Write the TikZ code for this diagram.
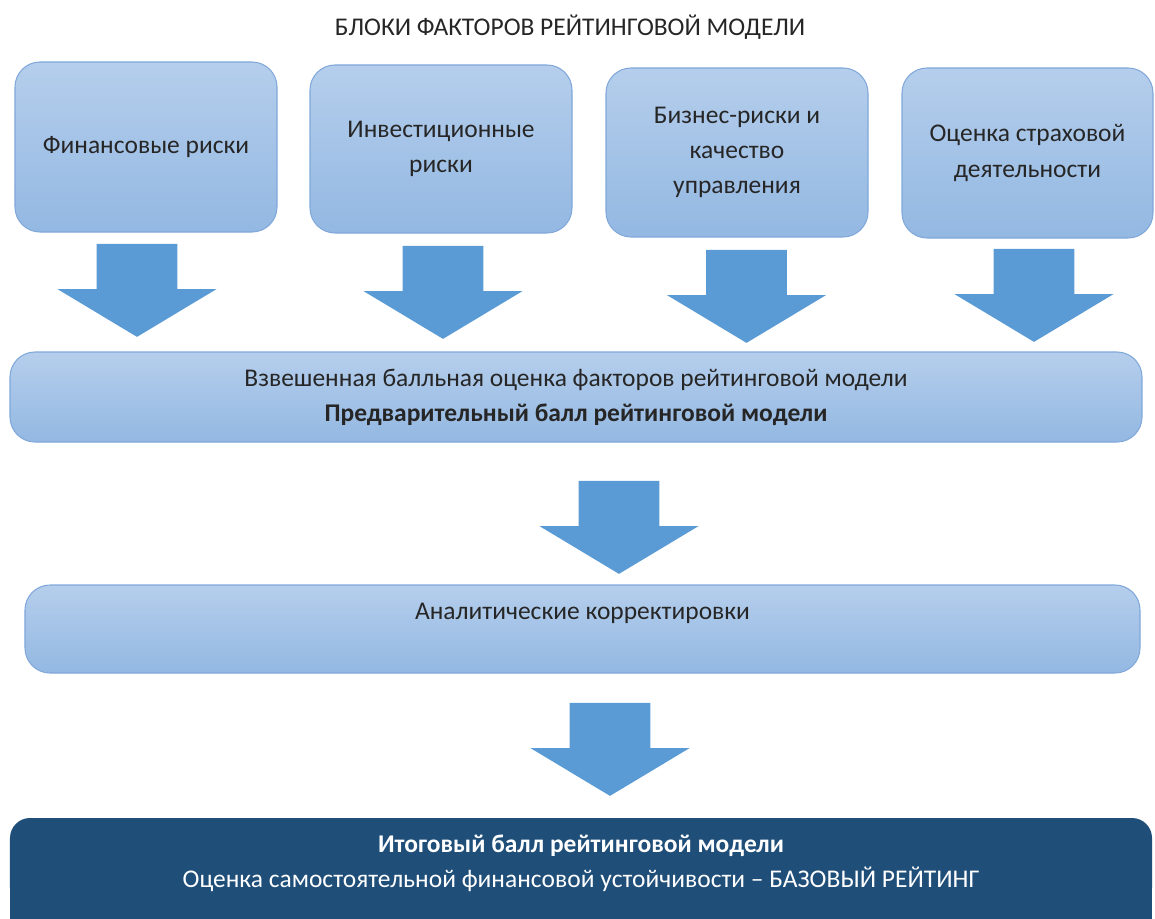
\documentclass[tikz,border=0pt]{standalone}
\usepackage{fontspec}
\setmainfont{Carlito}
\usepackage{xcolor}
\definecolor{boxtop}{RGB}{181,206,236}
\definecolor{boxbot}{RGB}{147,184,226}
\definecolor{boxline}{RGB}{128,168,218}
\definecolor{arrowblue}{RGB}{91,155,213}
\definecolor{darkblue}{RGB}{31,78,121}
\usepackage{tikz}
\usetikzlibrary{calc,shapes,shapes.arrows,backgrounds}

\begin{document}
\begin{tikzpicture}[font=\fontsize{14.5}{20}\selectfont,text=black!85,
  factor/.style={rectangle,rounded corners=0.5cm,draw=boxline,line width=0.6pt,
    top color=boxtop,bottom color=boxbot,align=center,inner sep=0pt},
  downarrow/.style={single arrow,fill=arrowblue,rotate=-90,anchor=tail,inner xsep=0pt,inner ysep=0.8cm,
    minimum height=1.86cm,minimum width=3.16cm,single arrow head extend=0.78cm,
    single arrow tip angle=118}]
  \useasboundingbox (0,0) rectangle (23.1,-18.36);

  \node (title) at (11.4,-0.54) {БЛОКИ ФАКТОРОВ РЕЙТИНГОВОЙ МОДЕЛИ};

  %% factor blocks
  \node[factor,minimum width=5.24cm,minimum height=3.4cm] (fin) at (2.92,-2.94) {Финансовые риски};
  \node[factor,minimum width=5.24cm,minimum height=3.36cm] (inv) at (8.82,-2.98) {Инвестиционные\\риски};
  \node[factor,minimum width=5.24cm,minimum height=3.38cm] (biz) at (14.74,-3.05) {Бизнес-риски и\\качество\\управления};
  \node[factor,minimum width=5.02cm,minimum height=3.4cm] (ins) at (20.55,-3.06) {Оценка страховой\\деятельности};

  \node[factor,minimum width=22.64cm,minimum height=1.8cm] (score) at (11.52,-7.94)
  {Взвешенная балльная оценка факторов рейтинговой модели\\\textbf{Предварительный балл рейтинговой модели}};

  \node[factor,minimum width=22.3cm,minimum height=1.76cm,text height=0.4cm,text depth=0.8cm] (adj) at (11.65,-12.58)
  {Аналитические корректировки};

  %% final block runs past the bottom edge
  \fill[darkblue] (0.2,-17.0) rectangle (23.04,-18.8);
  \node[rectangle,rounded corners=0.4cm,fill=darkblue,text=white,align=center,
  minimum width=22.84cm,minimum height=1.8cm] (base) at (11.62,-17.26)
  {\textbf{Итоговый балл рейтинговой модели}\\Оценка самостоятельной финансовой устойчивости – БАЗОВЫЙ РЕЙТИНГ};

  %% arrows
  \node[downarrow] (a1) at ([xshift=-0.18cm,yshift=-0.22cm]fin.south) {};
  \node[downarrow] (a2) at ([xshift=0.04cm,yshift=-0.24cm]inv.south) {};
  \node[downarrow] (a3) at ([xshift=0.19cm,yshift=-0.24cm]biz.south) {};
  \node[downarrow] (a4) at ([xshift=0.13cm,yshift=-0.20cm]ins.south) {};
  \node[downarrow] (a5) at ([xshift=0.86cm,yshift=-0.76cm]score.south) {};
  \node[downarrow] (a6) at ([xshift=0.55cm,yshift=-0.58cm]adj.south) {};
\end{tikzpicture}
\end{document}
